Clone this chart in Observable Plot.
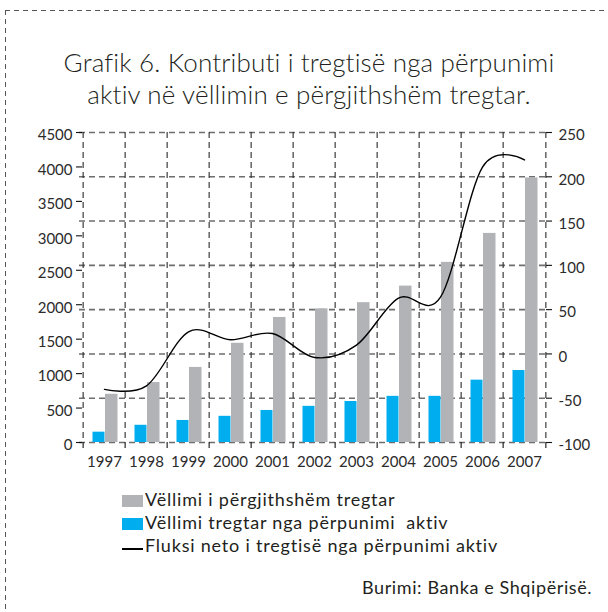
<!DOCTYPE html>
<html>
<head>
<meta charset="utf-8">
<script src="https://cdn.jsdelivr.net/npm/d3@7"></script>
<script src="https://cdn.jsdelivr.net/npm/@observablehq/plot@0.6"></script>
<style>
  body { margin: 0; background: #fff; }
  #fig { position: relative; width: 608px; height: 612px; overflow: hidden; font-family: Lato, "Noto Sans", sans-serif; color: #231f20; background: #fff; }
  .border-top { position: absolute; left: 5px; top: 10px; width: 603px; height: 1px;
    background: repeating-linear-gradient(to right, #555 0 5px, transparent 5px 9px); }
  .border-left { position: absolute; left: 5px; top: 10px; width: 1px; height: 602px;
    background: repeating-linear-gradient(to bottom, #555 0 5px, transparent 5px 9px); }
  #title { position: absolute; left: 0; width: 618px; top: 46px; text-align: center; font-size: 26px; line-height: 32px; font-weight: 300; letter-spacing: 0.15px; }
  #chart { position: absolute; left: 0; top: 112px; }
  .lg-text { position: absolute; left: 145px; font-size: 18px; line-height: 23.3px; white-space: pre; letter-spacing: 0.8px; }
  .sw { position: absolute; left: 122px; width: 21px; height: 12px; }
  .swl { position: absolute; left: 122px; width: 21px; height: 1.4px; background: #000; }
  #source { position: absolute; left: 362px; top: 576px; font-size: 18px; line-height: 23.3px; white-space: pre; letter-spacing: 0.6px; }
</style>
</head>
<body>
<div id="fig">
  <div class="border-top"></div>
  <div class="border-left"></div>
  <div id="title"></div>
  <div id="chart"></div>
  <div id="legend"></div>
  <div id="source"></div>
</div>
<script>
// ---- data ----
const years = ["1997","1998","1999","2000","2001","2002","2003","2004","2005","2006","2007"];
const totalVolume = [700, 870, 1090, 1440, 1815, 1940, 2030, 2270, 2615, 3035, 3840];
const processingVolume = [150, 250, 320, 380, 465, 525, 595, 670, 670, 905, 1045];
const netFlow = [-40, -36, 25, 16, 23, -4, 10, 63, 64, 211, 219];
const leftTicks = [0, 500, 1000, 1500, 2000, 2500, 3000, 3500, 4000, 4500];
const rightTicks = [-100, -50, 0, 50, 100, 150, 200, 250];
const titleLines = ["Grafik 6. Kontributi i tregtisë nga përpunimi", "aktiv në vëllimin e përgjithshëm tregtar."];
const seriesLabels = ["Vëllimi i përgjithshëm tregtar", "Vëllimi tregtar nga përpunimi  aktiv", "Fluksi neto i tregtisë nga përpunimi aktiv"];
const sourceText = "Burimi: Banka e Shqipërisë.";

const colors = {total: "#b1b3b6", processing: "#00aeef", net: "#000000"};

const rows = years.map((year, i) => ({year, total: totalVolume[i], processing: processingVolume[i], net: netFlow[i]}));

// right axis (net flow) mapped onto the left axis domain
const toLeft = d3.scaleLinear([-100, 250], [0, 4500]);

const W = 608, H = 368, mL = 79, mR = 59, mT = 20, mB = 38;
const frameW = W - mL - mR, frameH = H - mT - mB;
const bw = frameW / years.length;
const FONT = "Lato, 'Noto Sans', sans-serif";

const chart = Plot.plot({
  width: W, height: H,
  marginLeft: mL, marginRight: mR, marginTop: mT, marginBottom: mB,
  style: {background: "transparent", fontFamily: FONT, overflow: "visible"},
  x: {type: "band", domain: years, padding: 0, axis: null},
  y: {domain: [0, 4500], axis: null},
  marks: [
    // horizontal grid on the right-axis ticks
    Plot.ruleY(rightTicks, {y: d => toLeft(d), stroke: "#6e6e6e", strokeWidth: 1.6, strokeDasharray: "6,4"}),
    // vertical grid on the band boundaries
    Plot.ruleX(years, {x: d => d, dx: -bw / 2, stroke: "#2a2a2a", strokeWidth: 1.1, strokeDasharray: "6,4"}),
    Plot.ruleX(years.slice(-1), {x: d => d, dx: bw / 2, stroke: "#2a2a2a", strokeWidth: 1.1, strokeDasharray: "6,4"}),
    // bars
    Plot.barY(rows, {x: "year", y: "total", fill: colors.total, insetLeft: 22, insetRight: 7.5}),
    Plot.barY(rows, {x: "year", y: "processing", fill: colors.processing, insetLeft: 9.5, insetRight: 20.5}),
    // net flow line
    Plot.line(rows, {x: "year", y: d => toLeft(d.net), stroke: colors.net, strokeWidth: 1.4, curve: "cardinal", tension: 0}),
    // axis tick crosses
    Plot.tickY(leftTicks, {y: d => d, insetLeft: -3, insetRight: frameW - 3, stroke: "#111", strokeWidth: 1.1}),
    Plot.tickY(rightTicks, {y: d => toLeft(d), insetLeft: frameW - 3, insetRight: -3, stroke: "#111", strokeWidth: 1.1}),
    Plot.ruleX(years, {x: d => d, dx: -bw / 2, insetTop: frameH, insetBottom: -6, stroke: "#111", strokeWidth: 1.1}),
    Plot.ruleX(years.slice(-1), {x: d => d, dx: bw / 2, insetTop: frameH, insetBottom: -6, stroke: "#111", strokeWidth: 1.1}),
    // axes
    Plot.axisY(leftTicks, {anchor: "left", tickSize: 0, tickPadding: 7, dy: 3, label: null, tickFormat: d => String(d), fontSize: 15, fill: "#2b2b2b", fontFamily: FONT}),
    Plot.axisY(rightTicks, {y: toLeft, anchor: "right", tickSize: 0, tickPadding: 9, dy: 3, label: null, tickFormat: d => String(d), fontSize: 15, fill: "#2b2b2b", fontFamily: FONT}),
    Plot.axisX(years, {anchor: "bottom", tickSize: 0, tickPadding: 14, label: null, fontSize: 15, fill: "#2b2b2b", fontFamily: FONT})
  ]
});
document.getElementById("chart").appendChild(chart);

// title
const title = document.getElementById("title");
titleLines.forEach(t => { const d = document.createElement("div"); d.textContent = t; title.appendChild(d); });

// legend
const legend = document.getElementById("legend");
const baselines = [506.7, 530, 553.3];
const swatchKinds = ["total", "processing", "net"];
seriesLabels.forEach((label, i) => {
  const kind = swatchKinds[i];
  const sw = document.createElement("div");
  if (kind === "net") {
    sw.className = "swl";
    sw.style.top = (baselines[i] - 5) + "px";
  } else {
    sw.className = "sw";
    sw.style.background = colors[kind];
    sw.style.top = (baselines[i] - 12) + "px";
  }
  legend.appendChild(sw);
  const tx = document.createElement("div");
  tx.className = "lg-text";
  tx.textContent = label;
  tx.style.top = (baselines[i] - 19) + "px";
  legend.appendChild(tx);
});
document.getElementById("source").textContent = sourceText;
</script>
</body>
</html>
